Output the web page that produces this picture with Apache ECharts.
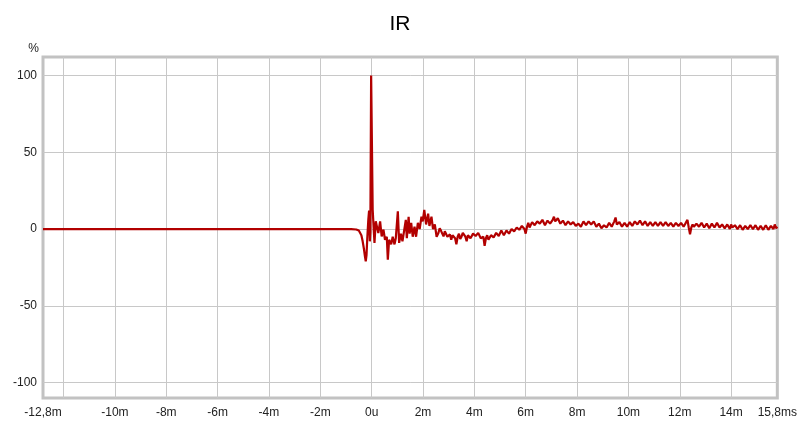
<!DOCTYPE html>
<html>
<head>
<meta charset="utf-8">
<script src="https://cdn.jsdelivr.net/npm/echarts@6/dist/echarts.min.js"></script>
<style>html,body{margin:0;padding:0;background:#fff}#c{width:800px;height:423px}</style>
</head>
<body>
<div id="c"></div>
<script>
// time in ms
const timeMs = [
 -12.8, -0.8, -0.6, -0.5, -0.45, -0.4, -0.35, -0.3, -0.26, -0.23, -0.2, -0.17, -0.13, -0.1, -0.07, -0.05, -0.02,
 0.04, 0.11, 0.16, 0.22, 0.26, 0.33, 0.39, 0.46, 0.52, 0.59, 0.63, 0.68, 0.76, 0.82, 0.89, 0.94,
 1.02, 1.07, 1.14, 1.2, 1.27, 1.33, 1.37, 1.44, 1.48, 1.54, 1.6, 1.67, 1.73, 1.8, 1.87, 1.94, 1.99,
 2.05, 2.12, 2.2, 2.25, 2.33, 2.39, 2.46, 2.53,
 2.6, 2.65, 2.7, 2.75, 2.8, 2.85, 2.9, 2.95, 3.0, 3.05, 3.1, 3.15, 3.2, 3.25, 3.3, 3.35, 3.4, 3.45, 3.5, 3.55,
 3.6, 3.65, 3.7, 3.75, 3.8, 3.85, 3.9, 3.95, 4.0, 4.05, 4.1, 4.15, 4.2, 4.25, 4.3, 4.35, 4.4, 4.45, 4.5, 4.55,
 4.6, 4.65, 4.7, 4.75, 4.8, 4.85, 4.9, 4.95, 5.0, 5.05, 5.1, 5.15, 5.2, 5.25, 5.3, 5.35, 5.4, 5.45, 5.5, 5.55,
 5.6, 5.65, 5.7, 5.75, 5.8, 5.85, 5.9, 5.95, 6.0, 6.05, 6.1, 6.15, 6.2, 6.25, 6.3, 6.35, 6.4, 6.45, 6.5, 6.55,
 6.6, 6.65, 6.7, 6.75, 6.8, 6.85, 6.9, 6.95, 7.0, 7.05, 7.1, 7.15, 7.2, 7.25, 7.3, 7.35, 7.4, 7.45, 7.5, 7.55,
 7.6, 7.65, 7.7, 7.75, 7.8, 7.85, 7.9, 7.95, 8.0, 8.05, 8.1, 8.15, 8.2, 8.25, 8.3, 8.35, 8.4, 8.45, 8.5, 8.55,
 8.6, 8.65, 8.7, 8.75, 8.8, 8.85, 8.9, 8.95, 9.0, 9.05, 9.1, 9.15, 9.2, 9.25, 9.3, 9.35, 9.4, 9.45, 9.5, 9.55,
 9.6, 9.65, 9.7, 9.75, 9.8, 9.85, 9.9, 9.95, 10.0, 10.05, 10.1, 10.15, 10.2, 10.25, 10.3, 10.35, 10.4, 10.45, 10.5, 10.55,
 10.6, 10.65, 10.7, 10.75, 10.8, 10.85, 10.9, 10.95, 11.0, 11.05, 11.1, 11.15, 11.2, 11.25, 11.3, 11.35, 11.4, 11.45, 11.5, 11.55,
 11.6, 11.65, 11.7, 11.75, 11.8, 11.85, 11.9, 11.95, 12.0, 12.05, 12.1, 12.15, 12.2, 12.25, 12.3, 12.35, 12.4, 12.45, 12.5, 12.55,
 12.6, 12.65, 12.7, 12.75, 12.8, 12.85, 12.9, 12.95, 13.0, 13.05, 13.1, 13.15, 13.2, 13.25, 13.3, 13.35, 13.4, 13.45, 13.5, 13.55,
 13.6, 13.65, 13.7, 13.75, 13.8, 13.85, 13.9, 13.95, 14.0, 14.05, 14.1, 14.15, 14.2, 14.25, 14.3, 14.35, 14.4, 14.45, 14.5, 14.55,
 14.6, 14.65, 14.7, 14.75, 14.8, 14.85, 14.9, 14.95, 15.0, 15.05, 15.1, 15.15, 15.2, 15.25, 15.3, 15.35, 15.4, 15.45, 15.5, 15.55,
 15.6, 15.65, 15.7, 15.75, 15.8
];
// amplitude in %
const irPercent = [
 0, 0, -0.3, -1, -2, -4, -8, -13, -18, -21, -17, -6, 6, 12, -8, -2, 100,
 12.5, -9, 5, 4, -2.6, 5, -4.8, -0.4, -7, -5, -20, -7, -10, -5, -10, -6,
 11.5, -9, -3, -8, -0.5, 6, -6, 8, -3, 4, -5, 1.5, -5, 4, 0, 8, 5,
 12.5, 3, 10, 2, 8, 0, 3, -5,
 -2.6, 0.5, -1, -3, -4.8, -1.5, -2.5, -5, -6, -3.5, -7, -4, -3, -6, -10, -5, -3, -6.5, -5, -2.5,
 -2, -5, -8, -4, -3, -6, -5, -3, -2.5, -4.5, -5.5, -2.5, -3, -6, -7, -5, -11, -6, -4, -7,
 -6.5, -4, -3, -5.5, -5, -2.5, -2, -4.5, -4.5, -1, -1.5, -4, -3.5, -1, 0, -3, -2.5, 0, 1, -1.5,
 -1.5, 1, 2, -0.5, -0.5, 2, 3, 0, -3, 1.5, 4, 1, 2, 4.5, 5.5, 2.5, 3, 5, 6, 3.5,
 3.5, 6, 5, 2.5, 3, 5.5, 6.5, 3.5, 4, 6, 8, 5, 4.5, 7, 6, 3.5, 2.5, 5.5, 5, 2.5,
 3, 5, 5.5, 3, 2, 4.5, 4.5, 2, 1.5, 3.5, 4, 1.5, 2, 5, 4.5, 2.5, 3, 5, 5.5, 3,
 3, 5, 4, 1.5, 1, 3.5, 3, 0.5, 0.5, 2.5, 3, 1, 1.5, 4, 3.5, 1.5, 2, 5, 7.5, 3,
 2, 4.5, 4, 1.5, 1.5, 4, 3.5, 1.5, 2.5, 4.5, 4, 2, 3, 5, 5.5, 3, 3, 5.5, 5, 2.5,
 3, 5, 4.5, 2, 2.5, 4.5, 4, 2, 3, 4.5, 4, 2, 2.5, 4.5, 4, 2, 3, 4.5, 3.5, 2,
 2, 4, 3.5, 1.5, 2.5, 4, 4, 2, 2, 4, 3.5, 1.5, 3, 4.5, 6, 1, -3.5, 1, 3, 1.5,
 1.5, 3.5, 3.5, 1.5, 2, 4, 3.5, 1, 1.5, 3.5, 3, 0.5, 1, 3.5, 3, 1, 2, 4, 3.5, 1,
 1, 3, 3, 0.5, 0.5, 3, 2.5, 0, 3, 1, 0, 2.5, 2.5, 0, 0.5, 2.5, 2, -0.5, -0.5, 2,
 2, 0, 0, 2.5, 2.5, 0, 0.5, 2.5, 2, -0.5, -0.5, 2, 1.5, -0.5, 0, 2.5, 2, -0.5, 0, 2,
 1.5, 0, 3, 0.5, 1.5
];
const xLabelValues = [-12.8, -10, -8, -6, -4, -2, 0, 2, 4, 6, 8, 10, 12, 14, 15.8];
const xGridValues = [-12, -10, -8, -6, -4, -2, 0, 2, 4, 6, 8, 10, 12, 14];
const yTickValues = [-100, -50, 0, 50, 100];

const data = timeMs.map((t, i) => [t, irPercent[i]]);
const font = 'Liberation Sans, Arial, sans-serif';

const chart = echarts.init(document.getElementById('c'), null, {renderer: 'canvas'});
chart.setOption({
  animation: false,
  backgroundColor: '#fff',
  title: {
    text: 'IR', left: 'center', top: 9,
    textStyle: {fontFamily: font, fontSize: 21, fontWeight: 'normal', color: '#000'}
  },
  grid: {
    left: 43, right: 21, top: 57, bottom: 25,
    show: true, borderColor: '#c2c2c2', borderWidth: 3, backgroundColor: 'transparent'
  },
  xAxis: {
    type: 'value', min: -12.8, max: 15.8,
    axisLine: {show: false, onZero: false},
    axisTick: {show: false, customValues: xGridValues},
    splitLine: {show: true, lineStyle: {color: '#c8c8c8', width: 1}},
    axisLabel: {
      customValues: xLabelValues, margin: 9,
      fontFamily: font, fontSize: 12, color: '#222',
      formatter: v => {
        if (Math.abs(v + 12.8) < 1e-6) return '-12,8m';
        if (Math.abs(v - 15.8) < 1e-6) return '15,8ms';
        if (v === 0) return '0u';
        return v + 'm';
      }
    }
  },
  yAxis: {
    type: 'value', min: -110, max: 112, position: 'left',
    name: '%', nameLocation: 'end', nameGap: 2,
    nameTextStyle: {fontFamily: font, fontSize: 12, color: '#222', align: 'right', padding: [0, 4, 0, 0]},
    axisLine: {show: false, onZero: false},
    axisTick: {show: false, customValues: yTickValues},
    splitLine: {show: true, lineStyle: {color: '#c8c8c8', width: 1}},
    axisLabel: {customValues: yTickValues, margin: 6, fontFamily: font, fontSize: 12, color: '#222'}
  },
  series: [{
    type: 'line', data: data, symbol: 'none', sampling: false,
    lineStyle: {color: '#b20000', width: 2.2},
    z: 3
  }]
});
</script>
</body>
</html>
